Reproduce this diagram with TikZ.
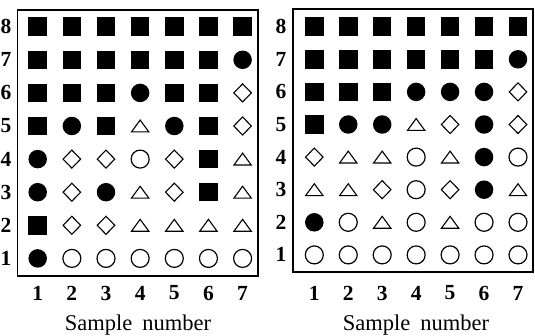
\documentclass[tikz,border=0pt]{standalone}
\usepackage{fontspec}
\setmainfont{Liberation Serif}
\usetikzlibrary{shapes.geometric}
\tikzset{
  mS/.style={rectangle,fill=black,minimum size=18.5,inner sep=0},
  mC/.style={circle,fill=black,minimum size=18.5,inner sep=0},
  mO/.style={circle,draw=black,line width=1.2,minimum size=18,inner sep=0},
  mD/.style={diamond,draw=black,line width=1.1,minimum width=18,minimum height=18.5,inner sep=0},
  mT/.style={rectangle,minimum width=17,minimum height=11.5,inner sep=0},
  tri/.style={draw=black,line width=1.1,line join=miter},
  frame/.style={draw=black,line width=1.6},
  lab/.style={font=\fontsize{21.5}{21.5}\selectfont\bfseries,inner sep=0},
  axt/.style={font=\fontsize{22.5}{22.5}\selectfont,inner sep=0},
}
\newcommand\mk[4]{%
  \node[m#2] (#1) at (#3,#4) {};
  \edef\tmpa{#2}\def\tmpT{T}%
  \ifx\tmpa\tmpT \draw[tri] (#1.south west) -- (#1.north) -- (#1.south east) -- cycle;\fi
}
\begin{document}
\begin{tikzpicture}[x=1pt,y=-1pt]
\useasboundingbox (0,0) rectangle (535,336);
% left panel
\node[frame,rectangle,minimum width=240.5,minimum height=266,inner sep=0] (Lbox) at (137.75,143) {};
\foreach \row [count=\r] in {
  {S,S,S,S,S,S,S},
  {S,S,S,S,S,S,C},
  {S,S,S,C,S,S,D},
  {S,C,S,T,C,S,D},
  {C,D,D,O,D,S,T},
  {C,D,C,T,D,S,T},
  {S,D,D,T,T,T,T},
  {C,O,O,O,O,O,O}}{
  \foreach \t [count=\c] in \row {
    \pgfmathsetmacro\xx{37.7+(\c-1)*34.15}
    \pgfmathsetmacro\yy{26.7+(\r-1)*33.1}
    \mk{L\r-\c}{\t}{\xx}{\yy}
  }
  \pgfmathtruncatemacro\lbl{9-\r}
  \pgfmathsetmacro\yy{26.7+(\r-1)*33.1}
  \node[lab] (Lr\r) at (6,\yy) {\lbl};
}
\foreach \c in {1,...,7}{
  \pgfmathsetmacro\xx{37.7+(\c-1)*34.15}
  \node[lab] (Lc\c) at (\xx,293) {\c};
}
\node[axt] (Lx) at (138,325) {Sample\hspace{10pt}number};
% right panel
\node[frame,rectangle,minimum width=240,minimum height=263,inner sep=0] (Rbox) at (413,140.5) {};
\foreach \row [count=\r] in {
  {S,S,S,S,S,S,S},
  {S,S,S,S,S,S,C},
  {S,S,S,C,C,C,D},
  {S,C,C,T,D,C,D},
  {D,T,T,O,T,C,O},
  {T,T,D,O,D,C,T},
  {C,O,T,O,T,O,O},
  {O,O,O,O,O,O,O}}{
  \foreach \t [count=\c] in \row {
    \pgfmathsetmacro\xx{314.3+(\c-1)*33.95}
    \pgfmathsetmacro\yy{26.7+(\r-1)*32.6}
    \mk{R\r-\c}{\t}{\xx}{\yy}
  }
  \pgfmathtruncatemacro\lbl{9-\r}
  \pgfmathsetmacro\yy{26.7+(\r-1)*32.6}
  \node[lab] (Rr\r) at (281,\yy) {\lbl};
}
\foreach \c in {1,...,7}{
  \pgfmathsetmacro\xx{314.3+(\c-1)*33.95}
  \node[lab] (Rc\c) at (\xx,293) {\c};
}
\node[axt] (Rx) at (416,325) {Sample\hspace{10pt}number};
\end{tikzpicture}
\end{document}
